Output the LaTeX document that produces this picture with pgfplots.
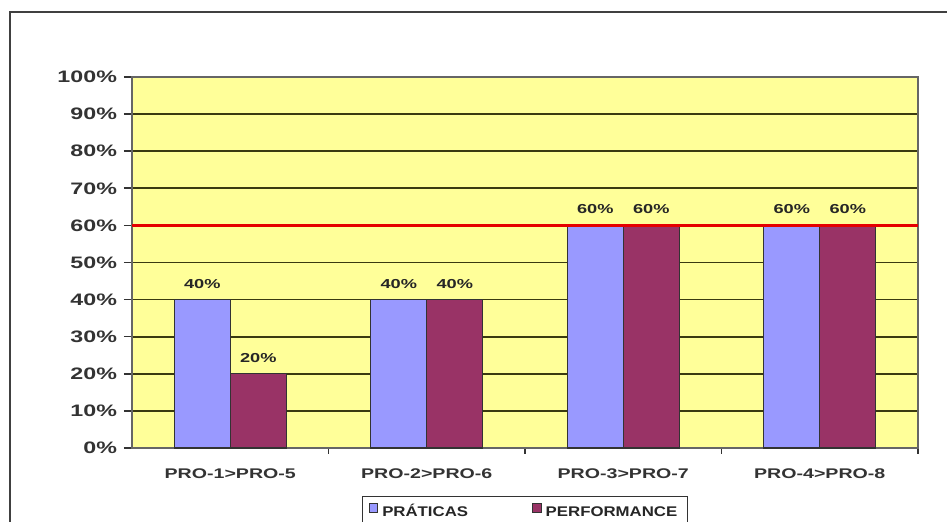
\documentclass[border=0pt]{standalone}
\usepackage{fontspec}
\setmainfont{Liberation Sans}
\newfontfamily\widefont[FakeStretch=1.4]{Liberation Sans}
\newfontfamily\legfont[FakeStretch=1.2]{Liberation Sans}
\usepackage{pgfplots}
\pgfplotsset{compat=1.18}
\definecolor{praticas}{HTML}{9999FF}
\definecolor{perf}{HTML}{993366}
\definecolor{bgyellow}{HTML}{FFFF99}
\definecolor{gridc}{HTML}{3A3A10}
\begin{document}
\begin{tikzpicture}
\useasboundingbox (-66pt,-37pt) rectangle (407.5pt,224pt);
\fill[white] (-66pt,-37pt) rectangle (407.5pt,224pt);
\draw[black!75, line width=1pt] (-61pt,-45pt) -- (-61pt,218pt) -- (415pt,218pt);
\begin{axis}[
  at={(0,0)}, anchor=south west,
  scale only axis,
  width=393pt, height=185.5pt,
  /pgf/number format/assume math mode=true,
  ybar=0pt, bar width=28pt,
  xmin=-0.5, xmax=3.5,
  ymin=0, ymax=100,
  ytick={0,10,...,100},
  yticklabel={\pgfmathprintnumber{\tick}\%},
  xtick={0,1,2,3},
  xticklabels={PRO-1>PRO-5, PRO-2>PRO-6, PRO-3>PRO-7, PRO-4>PRO-8},
  minor xtick={0.5,1.5,2.5,3.5},
  major x tick style={draw=none},
  minor tick length=3pt,
  major tick length=4pt,
  tick align=outside,
  tick pos=left,
  tick style={black!80, line width=0.8pt},
  axis background/.style={fill=bgyellow},
  axis line style={draw=black!60, line width=0.6pt},
  ymajorgrids,
  major grid style={gridc, line width=0.9pt},
  tick label style={font=\widefont\fontsize{8.3}{9}\selectfont\bfseries, text=black!80},
  xticklabel style={font=\widefont\fontsize{7}{8}\selectfont\bfseries, yshift=-3pt},
  nodes near coords={\pgfmathprintnumber{\pgfplotspointmeta}\%},
  nodes near coords style={font=\widefont\fontsize{6.5}{7}\selectfont\bfseries, text=black!85, yshift=2pt},
  legend style={at={(0.5,-0.13)}, anchor=north, legend columns=2,
    font=\legfont\fontsize{7}{8}\selectfont\bfseries, text=black!85, draw=black!80, line width=0.6pt,
    nodes={text height=6pt, text depth=1pt},
    /tikz/every even column/.append style={column sep=30pt}},
  legend image code/.code={\draw[#1, line width=0.4pt] (0pt,-0.2pt) rectangle (4.4pt,4.2pt);},
  enlarge x limits=false,
  clip=false,
]
\addplot[fill=praticas, draw=black!80, line width=0.6pt] coordinates {(0,40) (1,40) (2,60) (3,60)};
\addplot[fill=perf, draw=black!80, line width=0.6pt] coordinates {(0,20) (1,40) (2,60) (3,60)};
\addplot[red!90!black, line width=1.3pt, sharp plot, nodes near coords={}, forget plot] coordinates {(-0.5,60) (3.5,60)};
\legend{PRÁTICAS, PERFORMANCE}
\end{axis}
\end{tikzpicture}
\end{document}
